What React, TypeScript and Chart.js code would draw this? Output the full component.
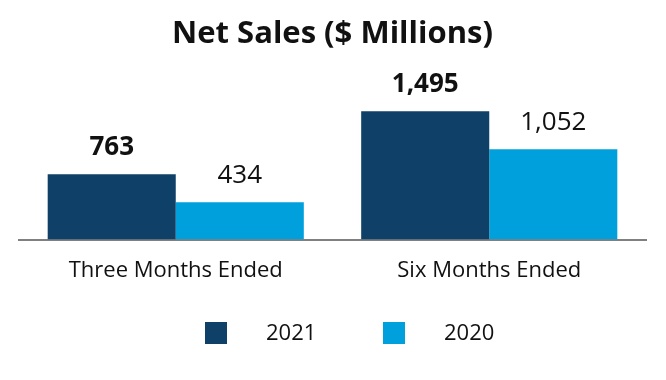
import React, { useEffect, useRef } from "react";
import { Chart, registerables } from "chart.js";

Chart.register(...registerables);

const categories = ["Three Months Ended", "Six Months Ended"];
const seriesNames = ["2021", "2020"];
const values2021 = [763, 1495];
const values2020 = [434, 1052];
const colors = ["#0f4068", "#00a0dc"];
const FONT = "'Open Sans', 'Noto Sans', sans-serif";

const valueLabelPlugin = {
  id: "valueLabels",
  afterDatasetsDraw(chart: any) {
    const ctx = chart.ctx;
    ctx.save();
    ctx.fillStyle = "#111";
    ctx.textAlign = "center";
    ctx.textBaseline = "alphabetic";
    chart.data.datasets.forEach((ds: any, di: number) => {
      const meta = chart.getDatasetMeta(di);
      ctx.font = `${di === 0 ? "bold " : ""}26px ${FONT}`;
      meta.data.forEach((bar: any, i: number) => {
        const v = ds.data[i] as number;
        ctx.fillText(v.toLocaleString("en-US"), bar.x, bar.y - 19.5);
      });
    });
    ctx.restore();
  },
};

const customLegendPlugin = {
  id: "customLegend",
  afterDraw(chart: any) {
    const ctx = chart.ctx;
    const cx = chart.width / 2;
    const cy = chart.height - 47;
    const starts = [cx - 128, cx + 50];
    ctx.save();
    ctx.font = `22px ${FONT}`;
    ctx.textBaseline = "middle";
    ctx.textAlign = "left";
    chart.data.datasets.forEach((ds: any, i: number) => {
      const x = starts[i];
      ctx.fillStyle = ds.backgroundColor;
      ctx.fillRect(x, cy - 11, 22, 22);
      ctx.fillStyle = "#111";
      ctx.fillText(ds.label, x + 61, cy + 1);
    });
    ctx.restore();
  },
};

export default function App() {
  const ref = useRef<HTMLCanvasElement>(null);
  useEffect(() => {
    document.body.style.margin = "0";
    const chart = new Chart(ref.current!, {
      type: "bar",
      data: {
        labels: categories,
        datasets: [
          { label: seriesNames[0], data: values2021, backgroundColor: colors[0] },
          { label: seriesNames[1], data: values2020, backgroundColor: colors[1] },
        ],
      },
      options: {
        animation: false,
        responsive: false,
        maintainAspectRatio: false,
        layout: { padding: { left: 19, right: 20, top: 0, bottom: 78 } },
        datasets: { bar: { categoryPercentage: 0.817, barPercentage: 1 } },
        plugins: {
          legend: { display: false },
          tooltip: { enabled: false },
          title: {
            display: true,
            text: "Net Sales ($ Millions)",
            color: "#111",
            font: { family: FONT, size: 31, weight: "bold" },
            padding: { top: 16, bottom: 8 },
          },
        },
        scales: {
          x: {
            grid: { display: false, drawTicks: false, tickLength: 0 },
            border: { display: true, color: "#808080", width: 2 },
            ticks: { color: "#111", font: { family: FONT, size: 22 }, padding: 18 },
          },
          y: { display: false, min: 0, max: 2079 },
        },
      },
      plugins: [valueLabelPlugin, customLegendPlugin],
    });
    return () => chart.destroy();
  }, []);
  return (
    <div style={{ width: 666, height: 380 }}>
      <canvas ref={ref} width={666} height={380} style={{ display: "block" }} />
    </div>
  );
}
